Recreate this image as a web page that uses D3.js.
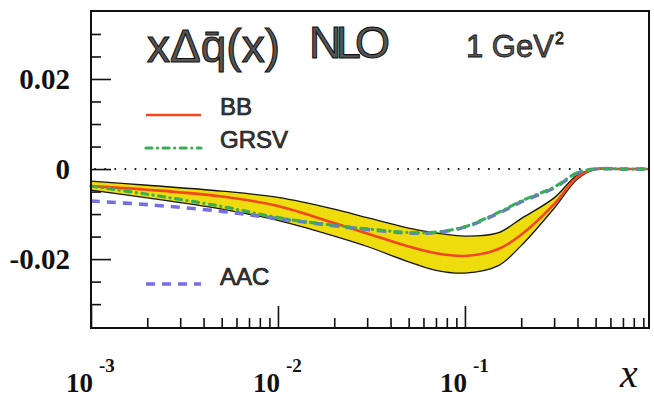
<!DOCTYPE html>
<html>
<head>
<meta charset="utf-8">
<script src="https://cdn.jsdelivr.net/npm/d3@7/dist/d3.min.js"></script>
<style>
  html, body { margin: 0; padding: 0; background: #fff; }
  svg { display: block; }
</style>
</head>
<body>
<svg id="chart" width="654" height="399"></svg>
<script>
// Values, one entry per x below.
const xs     = [ 0.001, 0.002, 0.005, 0.01, 0.02, 0.03, 0.05, 0.07, 0.1, 0.15, 0.2, 0.3, 0.4, 0.5, 0.7, 0.95 ];
const bbVals = [ -0.0038, -0.0046, -0.0061, -0.0082, -0.0120, -0.0143, -0.0172, -0.0187, -0.0193, -0.0178, -0.0146, -0.0078, -0.0018, 0, 0, 0 ];
const bandHi = [ -0.0027, -0.0036, -0.0049, -0.0063, -0.0089, -0.0108, -0.0131, -0.0142, -0.0149, -0.0142, -0.0110, -0.0064, -0.0013, 0, 0, 0 ];
const bandLo = [ -0.0047, -0.0064, -0.0089, -0.0114, -0.0149, -0.0172, -0.0206, -0.0225, -0.0231, -0.0215, -0.0170, -0.0087, -0.0022, 0, 0, 0 ];
const grsv   = [ -0.0038, -0.0056, -0.0083, -0.0108, -0.0125, -0.0133, -0.0141, -0.0140, -0.0128, -0.0097, -0.0071, -0.0040, -0.0008, 0, 0, 0 ];
const aac    = [ -0.0071, -0.0079, -0.0094, -0.0110, -0.0126, -0.0134, -0.0142, -0.0141, -0.0129, -0.0099, -0.0073, -0.0042, -0.0009, 0, 0, 0 ];

// Ticks.
const xMajor  = [ 0.001, 0.01, 0.1 ];
const xExpo   = [ '-3', '-2', '-1' ];
const xMinor  = [ 2,3,4,5,6,7,8,9 ].flatMap( m => [ m*1e-3, m*1e-2, m*1e-1 ] );
const yMajor  = [ -0.02, 0, 0.02 ];
const yLabels = [ '-0.02', '0', '0.02' ];
const yMinor  = [ -0.03, -0.025, -0.015, -0.01, -0.005, 0.005, 0.01, 0.015, 0.025, 0.03 ];

// Legend entries.
const legendNames = [ 'BB', 'GRSV', 'AAC' ];

const box = { left: 91, right: 649, top: 11, bottom: 328 };

const svg = d3.select( '#chart' );

const x = d3.scaleLog( )
  .domain( [ 1e-3, 0.965 ] )
  .range( [ box.left, box.right ] );
const y = d3.scaleLinear( )
  .domain( [ -0.0353, 0.0351 ] )
  .range( [ box.bottom, box.top ] );

const smooth = d3.curveCatmullRom.alpha( 0.5 );
const line = vals => d3.line( )
  .x( ( d, i ) => x( xs[i] ) )
  .y( d => y( d ) )
  .curve( smooth )( vals );

// Zero line, dotted.
svg.append( 'line' )
  .attr( 'x1', box.left + 4 ).attr( 'x2', box.right )
  .attr( 'y1', y( 0 ) ).attr( 'y2', y( 0 ) )
  .attr( 'stroke', '#111' )
  .attr( 'stroke-width', 2 )
  .attr( 'stroke-linecap', 'round' )
  .attr( 'stroke-dasharray', '0.1,10' );

// Error band of BB.
const band = d3.area( )
  .x( ( d, i ) => x( xs[i] ) )
  .y0( ( d, i ) => y( bandLo[i] ) )
  .y1( d => y( d ) )
  .curve( smooth );
svg.append( 'path' )
  .attr( 'd', band( bandHi ) )
  .attr( 'fill', '#efdc0c' );
[ bandHi, bandLo ].forEach( vals =>
  svg.append( 'path' )
    .attr( 'd', line( vals ) )
    .attr( 'fill', 'none' )
    .attr( 'stroke', '#151515' )
    .attr( 'stroke-width', 1.3 ) );

// Curves.
const styles = {
  BB  : { color: '#f2461f', width: 2.6, dash: null,             cap: 'butt'  },
  GRSV: { color: '#3aae55', width: 3.2, dash: '6,5.5,0.1,5.5',  cap: 'round' },
  AAC : { color: '#756fe2', width: 3.6, dash: '9,7',            cap: 'butt'  }
};
const drawCurve = ( vals, s ) => svg.append( 'path' )
  .attr( 'd', line( vals ) )
  .attr( 'fill', 'none' )
  .attr( 'stroke', s.color )
  .attr( 'stroke-width', s.width )
  .attr( 'stroke-linecap', s.cap )
  .attr( 'stroke-dasharray', s.dash );
drawCurve( bbVals, styles.BB );
drawCurve( aac, styles.AAC );
drawCurve( grsv, styles.GRSV );

// Axes: ticks point inwards, no ticks on top/right.
const axisG = ( axis ) => {
  const g = svg.append( 'g' ).call( axis );
  g.select( '.domain' ).remove( );
  g.selectAll( 'line' ).attr( 'stroke', '#111' ).attr( 'stroke-width', 1.6 );
  return g;
};
axisG( d3.axisBottom( x ).tickValues( xMinor ).tickSize( -10 ).tickFormat( '' ) )
  .attr( 'transform', `translate(0,${box.bottom})` );
axisG( d3.axisBottom( x ).tickValues( xMajor ).tickSize( -22 ).tickFormat( '' ) )
  .attr( 'transform', `translate(0,${box.bottom})` );
axisG( d3.axisLeft( y ).tickValues( yMinor ).tickSize( -10 ).tickFormat( '' ) )
  .attr( 'transform', `translate(${box.left},0)` );
const yAx = axisG( d3.axisLeft( y ).tickValues( yMajor ).tickSize( -20 ).tickPadding( 21 )
  .tickFormat( ( d, i ) => yLabels[i] ) )
  .attr( 'transform', `translate(${box.left},0)` );
yAx.selectAll( 'text' )
  .attr( 'font-family', '"Liberation Serif", "Times New Roman", serif' )
  .attr( 'font-weight', 'bold' )
  .attr( 'font-size', 29 )
  .attr( 'fill', '#111' )
  .attr( 'dy', '0.34em' );

// Frame.
svg.append( 'rect' )
  .attr( 'x', box.left ).attr( 'y', box.top )
  .attr( 'width', box.right - box.left ).attr( 'height', box.bottom - box.top )
  .attr( 'fill', 'none' )
  .attr( 'stroke', '#111' )
  .attr( 'stroke-width', 2 );

// Decade labels 10^n.
const xLab = svg.append( 'g' )
  .attr( 'font-family', '"Liberation Serif", "Times New Roman", serif' )
  .attr( 'font-weight', 'bold' )
  .attr( 'fill', '#111' );
xLab.selectAll( 'text' )
  .data( xMajor )
  .enter( )
  .append( 'text' )
    .attr( 'x', d => x( d ) - 25 )
    .attr( 'y', 392 )
    .attr( 'font-size', 27 )
    .each( function ( d, i ) {
      const t = d3.select( this );
      t.append( 'tspan' ).text( '10' );
      t.append( 'tspan' ).attr( 'dx', 6 ).attr( 'dy', -20 ).attr( 'font-size', 19 ).text( xExpo[i] );
    } );
svg.append( 'text' )
  .attr( 'x', 620 ).attr( 'y', 387 )
  .attr( 'font-family', '"Liberation Serif", "Times New Roman", serif' )
  .attr( 'font-style', 'italic' )
  .attr( 'font-size', 40 )
  .attr( 'fill', '#111' )
  .text( 'x' );

// Title.
const titleStyle = t => t
  .attr( 'font-family', '"Liberation Sans", Arial, sans-serif' )
  .attr( 'fill', '#555' )
  .attr( 'stroke', '#111' )
  .attr( 'stroke-width', 1.1 );
titleStyle( svg.append( 'text' ) )
  .attr( 'x', 147 ).attr( 'y', 62 )
  .attr( 'font-size', 46 )
  .attr( 'textLength', 133 )
  .text( 'xΔq̄(x)' );
titleStyle( svg.append( 'text' ) )
  .attr( 'x', 309 ).attr( 'y', 58 )
  .attr( 'font-size', 45 )
  .attr( 'textLength', 81 )
  .text( 'NLO' );
const gev = titleStyle( svg.append( 'text' ) )
  .attr( 'x', 466 ).attr( 'y', 57 )
  .attr( 'font-size', 31 )
  .attr( 'stroke-width', 0.8 );
gev.append( 'tspan' ).text( '1 GeV' );
gev.append( 'tspan' ).attr( 'dy', -13 ).attr( 'dx', 1 ).attr( 'font-size', 16 ).text( '2' );

// Legend.
const legendY = { BB: 115, GRSV: 148, AAC: 284 };
legendNames.forEach( name => {
  const s = styles[name];
  svg.append( 'line' )
    .attr( 'x1', 146 ).attr( 'x2', 201 )
    .attr( 'y1', legendY[name] ).attr( 'y2', legendY[name] )
    .attr( 'stroke', s.color )
    .attr( 'stroke-width', s.width )
    .attr( 'stroke-linecap', s.cap )
    .attr( 'stroke-dasharray', s.dash );
  titleStyle( svg.append( 'text' ) )
    .attr( 'x', 220 ).attr( 'y', legendY[name] + ( name === 'AAC' ? 1 : 0 ) )
    .attr( 'font-size', 24 )
    .attr( 'fill', '#3a3a3a' )
    .attr( 'stroke-width', 0.7 )
    .text( name );
} );
</script>
</body>
</html>
